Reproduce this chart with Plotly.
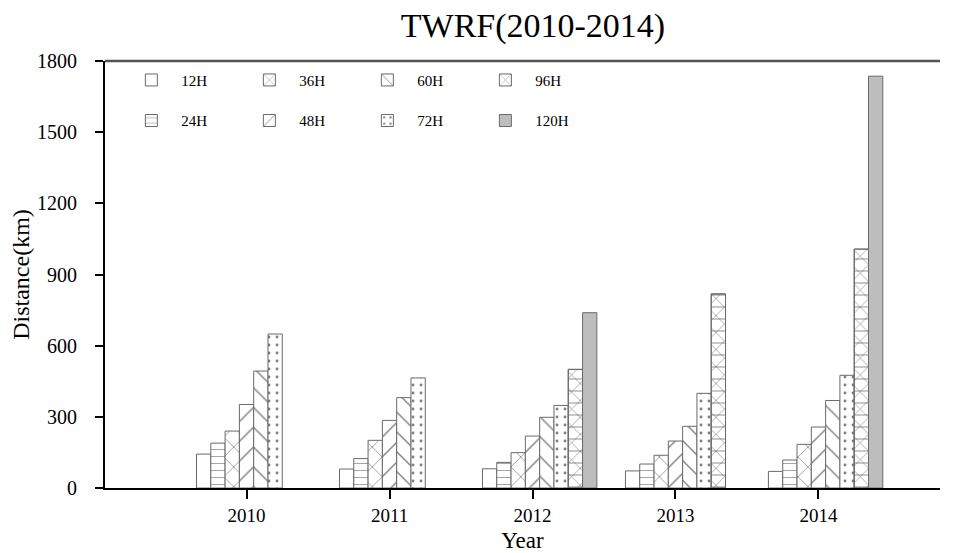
import plotly.graph_objects as go

years = ["2010", "2011", "2012", "2013", "2014"]
series = ["12H", "24H", "36H", "48H", "60H", "72H", "96H", "120H"]

h12 = [143, 80, 81, 72, 70]
h24 = [189, 124, 108, 101, 118]
h36 = [240, 201, 149, 138, 184]
h48 = [352, 285, 219, 198, 257]
h60 = [493, 381, 298, 260, 369]
h72 = [649, 464, 348, 399, 475]
h96 = [None, None, 500, 818, 1007]
h120 = [None, None, 739, None, 1736]

values = [h12, h24, h36, h48, h60, h72, h96, h120]
patterns = ["", "-", "x", "/", "\\", ".", "x", ""]
pattern_sizes = [8, 7, 14, 14, 14, 8, 12, 8]
legend_row = ["legend", "legend2", "legend", "legend2", "legend", "legend2", "legend", "legend2"]

serif = "Liberation Serif"
pos = list(range(len(years)))
bar_w = 0.1
start = -0.35

fig = go.Figure()

for i, name in enumerate(series):
    fill = "#bdbdbd" if name == "120H" else "white"
    fig.add_trace(
        go.Bar(
            x=pos,
            y=values[i],
            name=name,
            width=bar_w,
            offset=start + i * bar_w,
            legend=legend_row[i],
            marker=dict(
                color=fill,
                line=dict(color="#6a6a6a", width=1),
                pattern=dict(
                    shape=patterns[i],
                    size=pattern_sizes[i],
                    solidity=0.1,
                    fgcolor="#000000",
                    bgcolor=fill,
                    fillmode="overlay",
                ),
            ),
        )
    )
    if name == "96H":
        # horizontal rules on top of the diamonds
        fig.add_trace(
            go.Bar(
                x=pos,
                y=values[i],
                width=bar_w,
                offset=start + i * bar_w,
                showlegend=False,
                hoverinfo="skip",
                marker=dict(
                    color="rgba(0,0,0,0)",
                    line=dict(color="#6a6a6a", width=1),
                    pattern=dict(
                        shape="-",
                        size=12,
                        solidity=0.1,
                        fgcolor="#444444",
                        bgcolor="rgba(0,0,0,0)",
                        fillmode="overlay",
                    ),
                ),
            )
        )

fig.update_xaxes(
    range=[-0.99, 4.85],
    tickvals=pos,
    ticktext=years,
    automargin=False,
    showline=True,
    linewidth=1.5,
    linecolor="black",
    ticks="outside",
    ticklen=9,
    tickwidth=1.5,
    tickcolor="black",
    showgrid=False,
    zeroline=False,
    ticklabelstandoff=0,
    tickfont=dict(family=serif, size=19, color="black"),
    title=dict(text="Year", font=dict(family=serif, size=23, color="black"), standoff=7),
)

fig.update_layout(
    yaxis=dict(
        range=[0, 1800],
        dtick=300,
        automargin=False,
        showline=True,
        linewidth=2,
        linecolor="black",
        ticks="outside",
        ticklen=8,
        tickwidth=1.5,
        tickcolor="black",
        showgrid=False,
        zeroline=False,
        ticklabelstandoff=14,
        tickfont=dict(family=serif, size=20, color="black"),
        title=dict(text="Distance(km)", font=dict(family=serif, size=24, color="black"), standoff=4),
    ),
    # inner ticks every 100 km
    yaxis2=dict(
        range=[0, 1800],
        dtick=100,
        overlaying="y",
        side="left",
        anchor="x",
        automargin=False,
        ticks="inside",
        ticklen=6,
        tickwidth=1,
        tickcolor="black",
        showticklabels=False,
        showgrid=False,
        zeroline=False,
        showline=False,
    ),
)

# top frame line
fig.add_shape(
    type="line", xref="paper", yref="paper", x0=0, x1=1, y0=1, y1=1,
    line=dict(color="#555555", width=2.5),
)

legend_style = dict(
    orientation="h",
    xanchor="left",
    yanchor="middle",
    x=0.0196,
    entrywidth=53,
    entrywidthmode="pixels",
    itemwidth=50,
    bgcolor="rgba(0,0,0,0)",
    font=dict(family=serif, size=15, color="black"),
)

fig.update_layout(
    title=dict(
        text="TWRF(2010-2014)",
        x=0.5503,
        xanchor="center",
        y=0.99,
        yanchor="top",
        font=dict(family=serif, size=34, color="black"),
    ),
    width=954,
    height=553,
    margin=dict(l=97, r=22, t=53, b=73),
    template="plotly_white",
    plot_bgcolor="white",
    paper_bgcolor="white",
    barmode="overlay",
    legend=dict(legend_style, y=0.955),
    legend2=dict(legend_style, y=0.86),
)

fig.write_html("out.html")
